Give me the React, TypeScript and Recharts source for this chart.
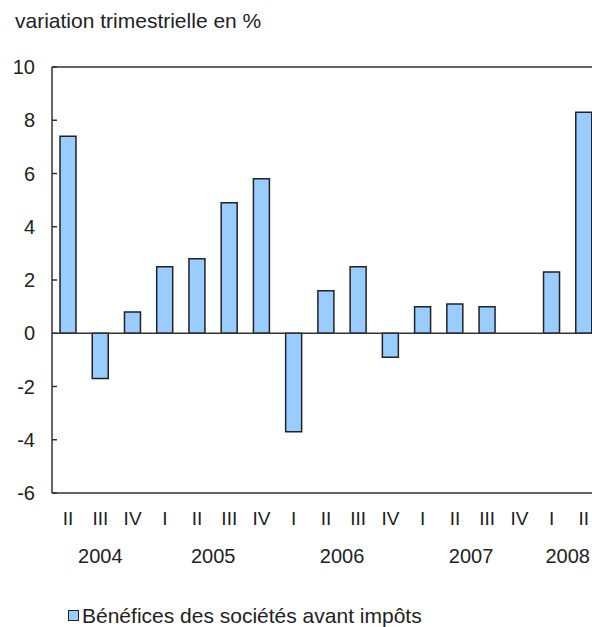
import { Bar, BarChart, ReferenceLine, XAxis, YAxis } from "recharts";

const quarters = ["II", "III", "IV", "I", "II", "III", "IV", "I", "II", "III", "IV", "I", "II", "III", "IV", "I", "II"];
const years = ["2004", "2004", "2004", "2005", "2005", "2005", "2005", "2006", "2006", "2006", "2006", "2007", "2007", "2007", "2007", "2008", "2008"];
const profits = [7.4, -1.7, 0.8, 2.5, 2.8, 4.9, 5.8, -3.7, 1.6, 2.5, -0.9, 1.0, 1.1, 1.0, 0, 2.3, 8.3];
const yTicks = [-6, -4, -2, 0, 2, 4, 6, 8, 10];

const FONT = "'Liberation Sans', Arial, sans-serif";
const TEXT = "#222";

const data = quarters.map((q, i) => ({ idx: i, quarter: q, year: years[i], value: profits[i] }));

// centre of each year group, in category index units
const yearCentres: { year: string; pos: number }[] = [];
years.forEach((y, i) => {
  const last = yearCentres[yearCentres.length - 1];
  if (last && last.year === y) return;
  const count = years.filter((v) => v === y).length;
  yearCentres.push({ year: y, pos: i + (count - 1) / 2 });
});

const QuarterTick = ({ x, y, payload }: any) => (
  <text x={x} y={y} dy="0.71em" textAnchor="middle" fill={TEXT} fontSize={19} fontFamily={FONT}>
    {payload.value}
  </text>
);

export default function App() {
  return (
    <div
      style={{
        position: "fixed",
        left: 0,
        top: 0,
        width: 592,
        height: 627,
        overflow: "hidden",
        background: "#fff",
        fontFamily: FONT,
        color: TEXT,
      }}
    >
      <div style={{ position: "absolute", left: 15, top: 10, fontSize: 21, lineHeight: 1 }}>
        variation trimestrielle en %
      </div>

      <BarChart width={612} height={627} data={data} margin={{ top: 67, right: 12, bottom: 49, left: 0 }}>
        <YAxis
          yAxisId="v"
          domain={[-6, 10]}
          ticks={yTicks}
          width={52}
          interval={0}
          stroke="#333"
          strokeWidth={1.5}
          tickSize={-5}
          tickMargin={22}
          tick={{ fill: TEXT, fontSize: 20, fontFamily: FONT }}
        />
        <XAxis
          xAxisId="q"
          dataKey="quarter"
          interval={0}
          height={45}
          stroke="#333"
          strokeWidth={1.5}
          tickLine={false}
          tickSize={0}
          tickMargin={19}
          tick={<QuarterTick />}
        />
        <XAxis
          xAxisId="yr"
          type="number"
          dataKey="idx"
          domain={[-0.5, quarters.length - 0.5]}
          ticks={yearCentres.map((c) => c.pos)}
          tickFormatter={(v: number) => yearCentres.find((c) => c.pos === v)?.year ?? ""}
          interval={0}
          height={40}
          axisLine={false}
          tickLine={false}
          tickSize={0}
          tickMargin={11}
          tick={{ fill: TEXT, fontSize: 20, fontFamily: FONT }}
        />
        <ReferenceLine xAxisId="q" yAxisId="v" y={10} stroke="#333" strokeWidth={1.5} />
        <ReferenceLine xAxisId="q" yAxisId="v" y={0} stroke="#333" strokeWidth={1.5} />
        <Bar
          xAxisId="q"
          yAxisId="v"
          dataKey="value"
          barSize={16}
          fill="#99CCFF"
          stroke="#222"
          strokeWidth={1.5}
          isAnimationActive={false}
        />
      </BarChart>

      <div style={{ position: "absolute", left: 68, top: 605, display: "flex", alignItems: "center", fontSize: 21, lineHeight: 1 }}>
        <span
          style={{
            display: "inline-block",
            width: 9,
            height: 9,
            background: "#99CCFF",
            border: "1.5px solid #222",
            marginRight: 3,
          }}
        />
        Bénéfices des sociétés avant impôts
      </div>
    </div>
  );
}
